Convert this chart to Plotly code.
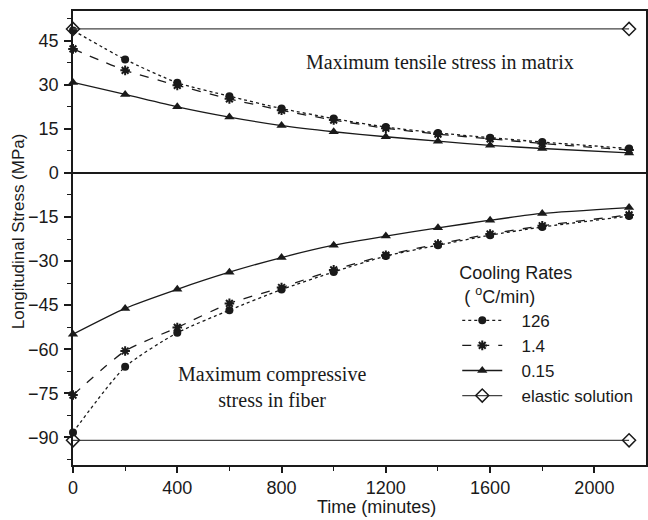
import plotly.graph_objects as go

# ---- data ----
time = [0, 200, 400, 600, 800, 1000, 1200, 1400, 1600, 1800, 2133]

tens_126 = [48.5, 38.6, 30.7, 26.1, 21.9, 18.5, 15.6, 13.6, 12.0, 10.5, 8.3]
tens_14 = [42.2, 34.9, 29.8, 25.2, 21.3, 18.0, 15.2, 13.2, 11.6, 10.0, 7.8]
tens_015 = [30.8, 26.7, 22.5, 19.0, 16.1, 14.0, 12.3, 10.8, 9.4, 8.3, 6.8]

comp_126 = [-88.3, -66.0, -54.4, -46.7, -39.7, -33.7, -28.3, -24.6, -21.2, -18.4, -14.7]
comp_14 = [-75.6, -60.6, -52.6, -44.4, -39.0, -33.0, -28.0, -24.2, -20.8, -18.0, -14.3]
comp_015 = [-54.9, -46.1, -39.6, -33.8, -28.8, -24.6, -21.5, -18.7, -16.1, -13.8, -11.8]

elastic_t = [0, 2133]
elastic_tension = 49.0
elastic_compression = -91.0

series_names = ["126", "1.4", "0.15", "elastic solution"]

x_ticks = [0, 400, 800, 1200, 1600, 2000]
y_ticks = [-90, -75, -60, -45, -30, -15, 0, 15, 30, 45]

INK = "#1a1a1a"
PAD = "\u00a0\u00a0\u00a0"

fig = go.Figure()


def join(a, b):
    return a + [None] + b


tt = join(time, time)

fig.add_trace(go.Scatter(
    x=tt, y=join(tens_126, comp_126), name=PAD + series_names[0], mode="lines+markers",
    line=dict(color=INK, width=1.3, dash="dot", shape="spline", smoothing=0.6),
    marker=dict(symbol="circle", size=8, color=INK), cliponaxis=False,
    legendgroup="a"))
fig.add_trace(go.Scatter(
    x=tt, y=join(tens_14, comp_14), name=PAD + series_names[1], mode="lines+markers",
    line=dict(color=INK, width=1.3, dash="dash", shape="spline", smoothing=0.6),
    marker=dict(symbol="asterisk-open", size=8, color=INK, line=dict(width=2, color=INK)),
    cliponaxis=False, legendgroup="b"))
fig.add_trace(go.Scatter(
    x=tt, y=join(tens_015, comp_015), name=PAD + series_names[2], mode="lines+markers",
    line=dict(color=INK, width=1.3, shape="spline", smoothing=0.6),
    marker=dict(symbol="triangle-up", size=9, color=INK), cliponaxis=False,
    legendgroup="c"))
fig.add_trace(go.Scatter(
    x=join(elastic_t, elastic_t),
    y=join([elastic_tension] * 2, [elastic_compression] * 2),
    name=PAD + series_names[3], mode="lines+markers",
    line=dict(color="#444", width=1.3),
    marker=dict(symbol="diamond-open", size=10, color=INK, line=dict(width=1.5, color=INK)),
    cliponaxis=False, legendgroup="d"))

XR = [0, 2198]
YR = [-99.4, 55.1]

fig.update_layout(
    width=648, height=520,
    margin=dict(l=73, r=0, t=11, b=55),
    paper_bgcolor="white", plot_bgcolor="white",
    font=dict(family="Liberation Sans, Arial, sans-serif", size=18, color=INK),
    showlegend=True,
    legend=dict(
        x=0.6706, y=0.4605, xanchor="left", yanchor="top",
        bgcolor="rgba(0,0,0,0)", borderwidth=0,
        font=dict(size=17, color=INK),
        title=dict(text="Cooling Rates<br> ( <sup>o</sup>C/min)", font=dict(size=18, color=INK)),
        tracegroupgap=0, itemwidth=40,
    ),
    xaxis=dict(
        range=XR, tickvals=x_ticks, ticks="outside", ticklen=6, tickwidth=1.5,
        tickcolor=INK, showline=True, linecolor=INK, linewidth=1.5, mirror=True,
        showgrid=False, zeroline=False, tickfont=dict(size=18), ticklabelstandoff=0,
        minor=dict(dtick=200, tick0=0, ticks="outside", ticklen=4, tickwidth=1.2, tickcolor=INK, showgrid=False),
    ),
    yaxis=dict(
        range=YR, tickvals=y_ticks, ticks="outside", ticklen=7, tickwidth=1.5,
        tickcolor=INK, showline=True, linecolor=INK, linewidth=1.5, mirror=True,
        showgrid=False, zeroline=True, zerolinecolor=INK, zerolinewidth=1.8,
        tickfont=dict(size=18), ticklabelstandoff=2,
        minor=dict(dtick=7.5, tick0=0, ticks="outside", ticklen=4, tickwidth=1.2, tickcolor=INK, showgrid=False),
    ),
    xaxis2=dict(
        overlaying="x", anchor="y", side="top", range=XR, tickvals=x_ticks,
        ticks="inside", ticklen=6, tickwidth=1.5, tickcolor=INK,
        showticklabels=False, showgrid=False, zeroline=False, showline=False,
        minor=dict(dtick=200, tick0=0, ticks="inside", ticklen=4, tickwidth=1.2, tickcolor=INK, showgrid=False),
    ),
    yaxis2=dict(
        overlaying="y", anchor="x", side="right", range=YR, tickvals=y_ticks,
        ticks="inside", ticklen=7, tickwidth=1.5, tickcolor=INK,
        showticklabels=False, showgrid=False, zeroline=False, showline=False,
        minor=dict(dtick=7.5, tick0=0, ticks="inside", ticklen=4, tickwidth=1.2, tickcolor=INK, showgrid=False),
    ),
    annotations=[
        dict(text="Maximum tensile stress in matrix", xref="paper", yref="paper",
             x=(441 - 73) / 575, y=(465 - 62) / 454, xanchor="center", yanchor="middle",
             showarrow=False,
             font=dict(family="Liberation Serif, Times New Roman, serif", size=20, color=INK)),
        dict(text="Maximum compressive<br>stress in fiber", xref="paper", yref="paper",
             x=(273 - 73) / 575, y=(465 - 387) / 454, xanchor="center", yanchor="middle",
             showarrow=False,
             font=dict(family="Liberation Serif, Times New Roman, serif", size=20, color=INK)),
        dict(text="Time (minutes)", xref="paper", yref="paper",
             x=(378 - 73) / 575, y=(465 - 507) / 454, xanchor="center", yanchor="middle",
             showarrow=False, font=dict(size=18, color=INK)),
        dict(text="Longitudinal Stress (MPa)", xref="paper", yref="paper",
             x=(18 - 73) / 575, y=(465 - 231) / 454, xanchor="center", yanchor="middle",
             showarrow=False, textangle=-90, font=dict(size=17, color=INK)),
    ],
)

fig.write_html("out.html")
